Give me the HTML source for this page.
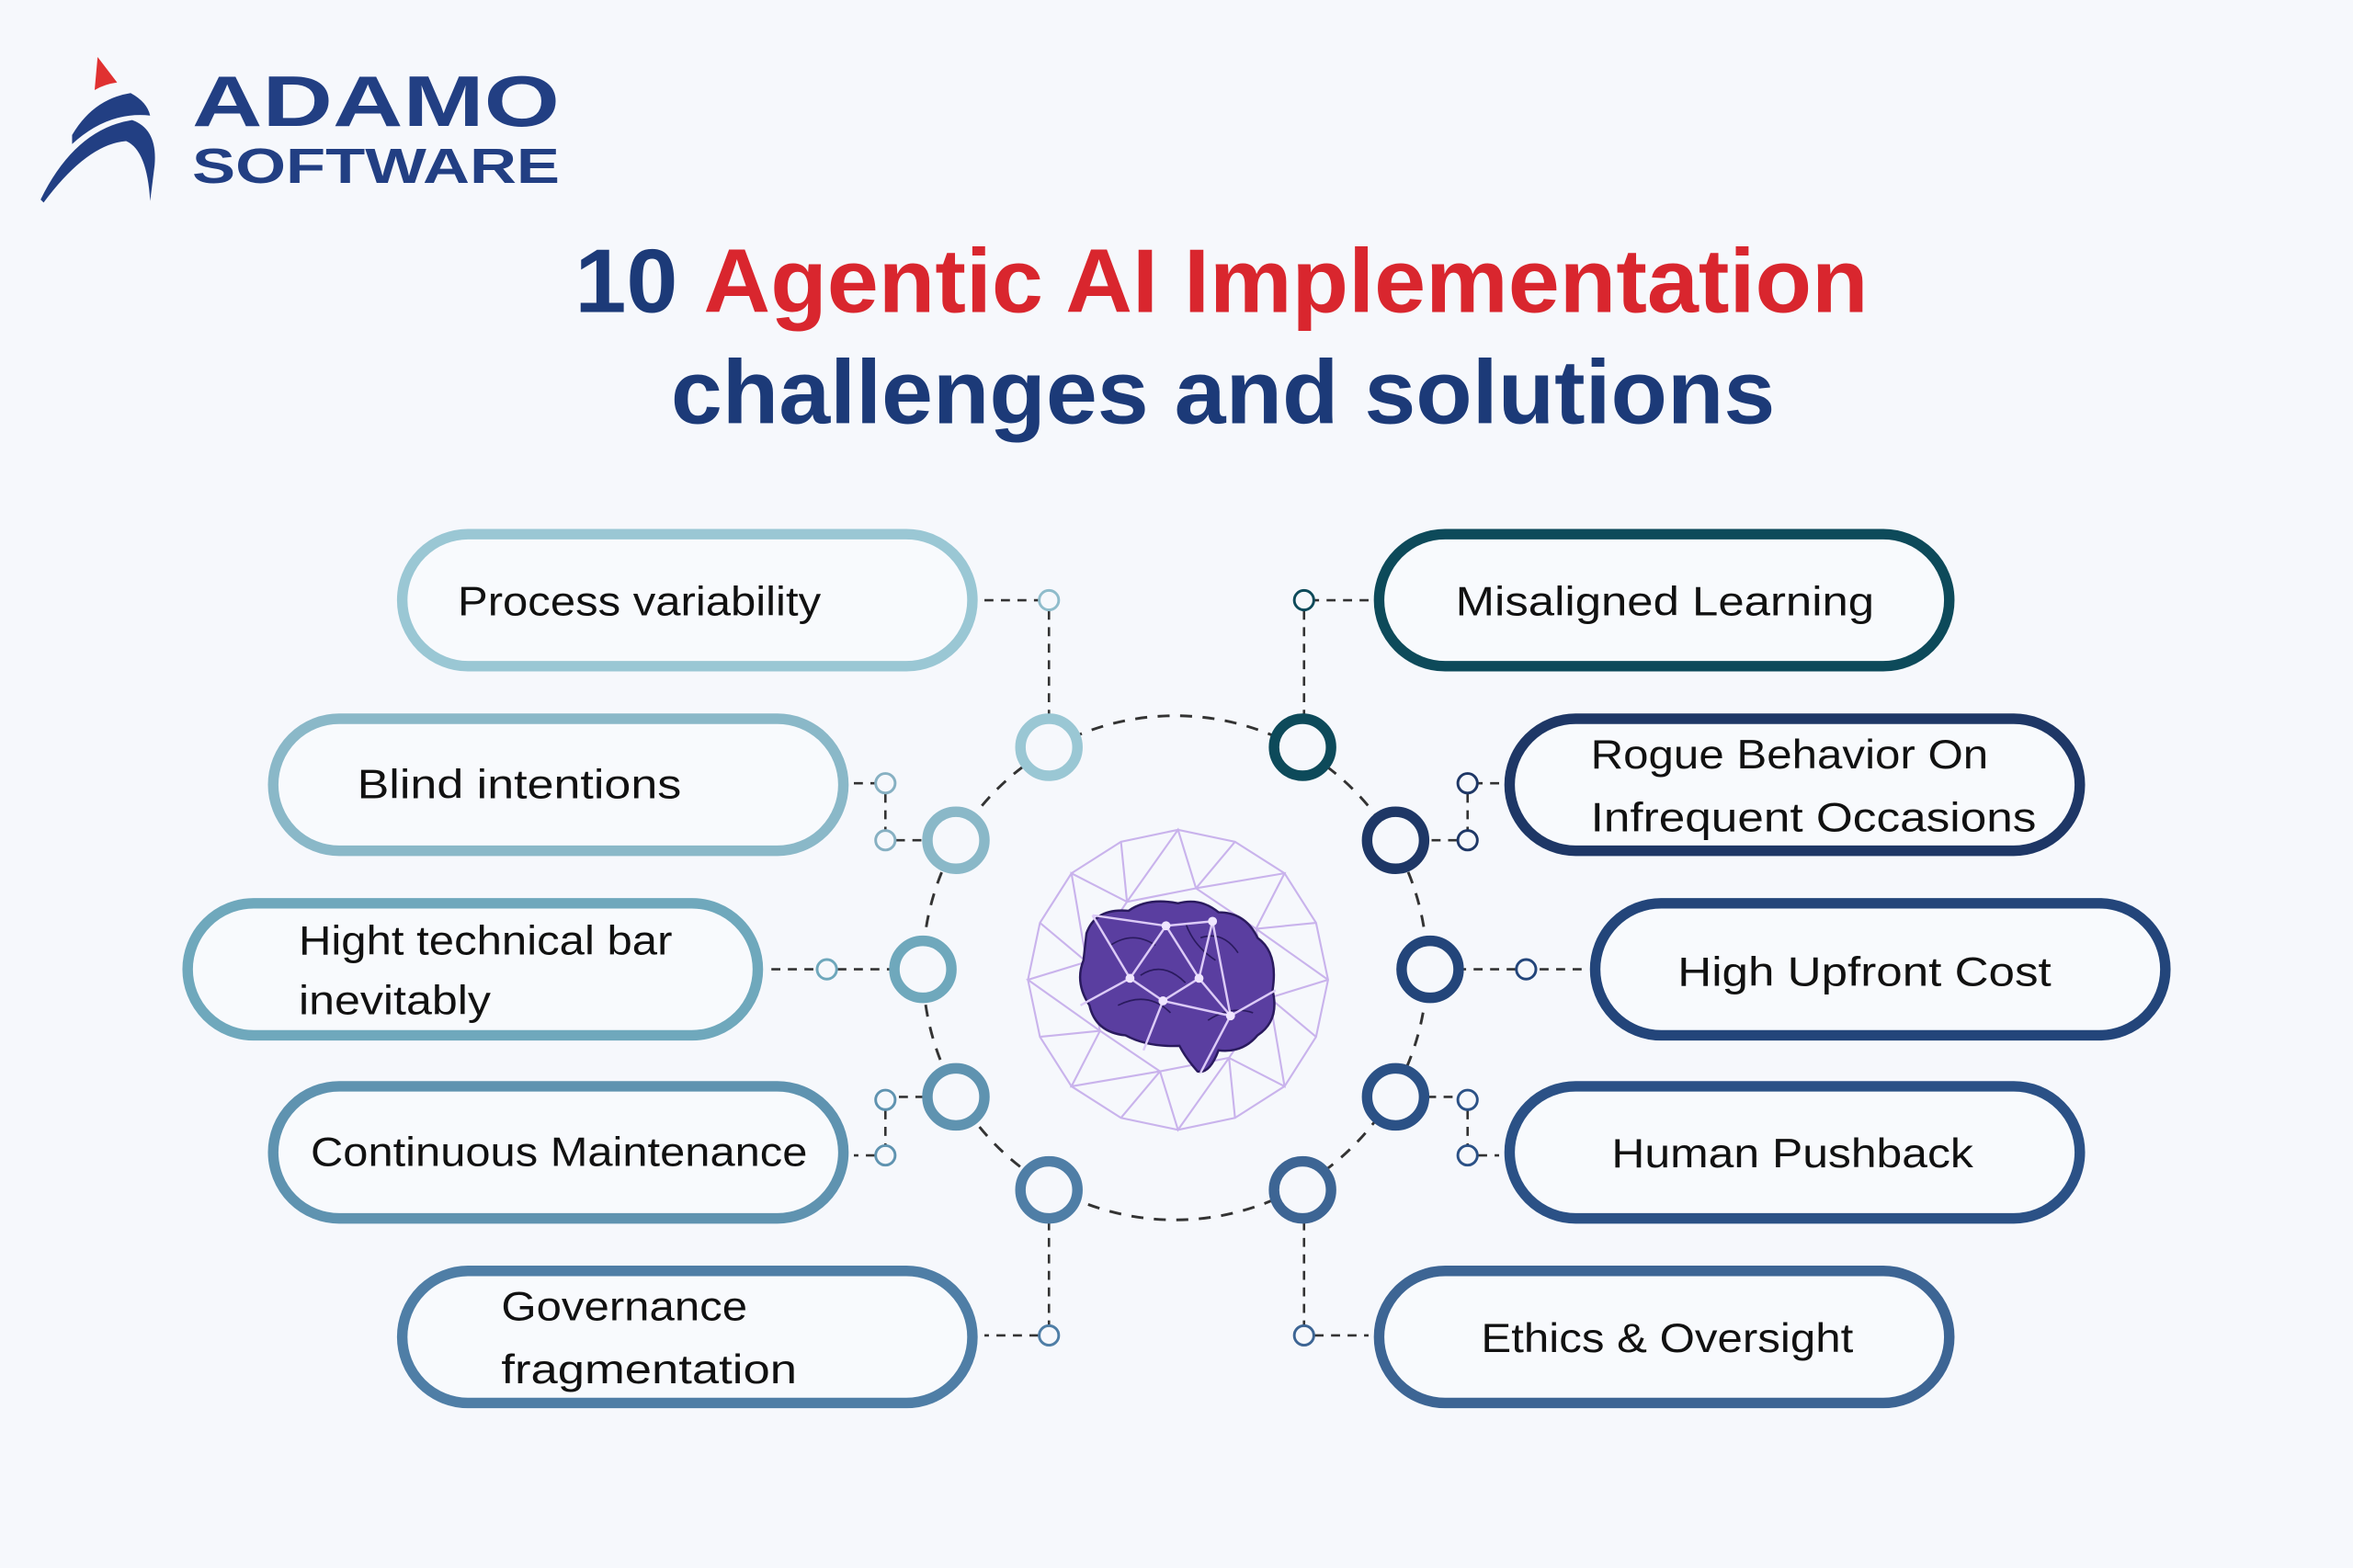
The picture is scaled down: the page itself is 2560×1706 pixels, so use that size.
<!DOCTYPE html>
<html><head><meta charset="utf-8"><style>
html,body{margin:0;padding:0;background:#f6f8fc;}
svg{display:block;}
.t{font-family:"Liberation Sans",sans-serif;font-size:27px;fill:#111;}
.h{font-family:"Liberation Sans",sans-serif;font-weight:bold;font-size:60px;}
</style></head><body>
<svg width="2560" height="1706" viewBox="0 0 1568 1045" xmlns="http://www.w3.org/2000/svg">
<rect width="1568" height="1045" fill="#f6f8fc"/>
<!-- logo -->
<path d="M65 38 L78 55 Q70 56 63 60 Z" fill="#e03131"/>
<path d="M48 90 Q62 66 87 62 Q98 68 100 77 Q72 74 48 96 Z" fill="#223f83"/>
<path d="M27 133 Q50 86 88 80 Q105 86 103 110 L100 134 Q98 100 84 94 Q58 96 29 135 Z" fill="#223f83"/>
<text x="128" y="84" font-family="Liberation Sans,sans-serif" font-weight="bold" font-size="48" fill="#223f83" textLength="245" lengthAdjust="spacingAndGlyphs">ADAMO</text>
<text x="128" y="122" font-family="Liberation Sans,sans-serif" font-weight="bold" font-size="33" fill="#223f83" textLength="245" lengthAdjust="spacingAndGlyphs">SOFTWARE</text>
<!-- title -->
<text class="h" x="383" y="208" textLength="862" lengthAdjust="spacingAndGlyphs"><tspan fill="#1c3a78">10 </tspan><tspan fill="#d9262e">Agentic AI Implementation</tspan></text>
<text class="h" x="447" y="282" fill="#1c3a78" textLength="736" lengthAdjust="spacingAndGlyphs">challenges and solutions</text>
<!-- dashed ring -->
<circle cx="783" cy="645" r="168" fill="none" stroke="#333" stroke-width="1.8" stroke-dasharray="8 7"/>
<!-- brain mesh -->
<g stroke="#c9b3ec" stroke-width="1.3" fill="none">
<polygon points="885,653 877,691 856,724 823,745 785,753 747,745 714,724 693,691 685,653 693,615 714,582 747,561 785,553 823,561 856,582 877,615"/>
<polygon points="846,665 819,705 773,714 733,687 724,641 751,601 797,592 837,619"/>
<polyline points="885,653 846,665 856,724 819,705 785,753 773,714 714,724 733,687 685,653 724,641 714,582 751,601 785,553 797,592 856,582 837,619 885,653"/>
<path d="M877,691 L846,665 M823,745 L819,705 M747,745 L773,714 M693,691 L733,687 M693,615 L724,641 M747,561 L751,601 M823,561 L797,592 M877,615 L837,619"/>
</g>
<path d="M724 622 Q730 605 752 607 Q765 598 785 602 Q800 598 812 608 Q830 608 838 625 Q852 635 848 660 Q853 680 838 690 Q828 702 812 700 Q806 716 798 714 Q790 705 786 697 Q765 698 750 690 Q730 688 726 670 Q716 655 722 640 Z" fill="#5a3ea0" stroke="#2a1a5e" stroke-width="1.5"/>
<g stroke="#2a1a5e" stroke-width="1" fill="none">
<path d="M740 630 Q755 620 770 630 M760 650 Q775 640 790 655 M800 625 Q815 620 825 635 M745 670 Q765 660 780 675 M805 680 Q820 670 835 675 M790 615 Q795 630 810 640"/>
</g>
<g stroke="#dccbf7" stroke-width="1.5" fill="none">
<path d="M728 610 L777 617 L808 614 L820 677 L775 667 L753 652 L728 610 M753 652 L777 617 L799 652 L808 614 M799 652 L820 677 M799 652 L775 667 L753 652 M775 667 L762 700 M820 677 L850 660 M820 677 L800 715 M753 652 L720 670"/>
</g>
<g fill="#efe6ff"><circle cx="753" cy="652" r="3"/><circle cx="799" cy="652" r="3"/><circle cx="777" cy="617" r="3"/><circle cx="775" cy="667" r="3"/><circle cx="820" cy="677" r="3"/><circle cx="808" cy="614" r="3"/></g>
<!-- connectors -->
<g stroke="#333" stroke-width="1.6" fill="none" stroke-dasharray="6 5">
<path d="M656 400 H692 M699 407 V477"/>
<path d="M569 522 H583 M590 529 V553 M597 560 H616"/>
<path d="M514 646 H544 M558 646 H594"/>
<path d="M616 731 H597 M590 740 V763 M583 770 H569"/>
<path d="M699 814 V883 M692 890 H656"/>
<path d="M912 400 H876 M869 407 V477"/>
<path d="M999 522 H985 M978 529 V553 M971 560 H951"/>
<path d="M1054 646 H1024 M1010 646 H974"/>
<path d="M951 731 H971 M978 740 V763 M985 770 H999"/>
<path d="M869 814 V883 M876 890 H912"/>
</g>
<g fill="#f6f8fc" stroke-width="1.8">
<circle cx="699" cy="400" r="6.5" stroke="#8fbccb"/>
<circle cx="590" cy="522" r="6.5" stroke="#86b0c2"/><circle cx="590" cy="560" r="6.5" stroke="#86b0c2"/>
<circle cx="551" cy="646" r="6.5" stroke="#6ea7bb"/>
<circle cx="590" cy="733" r="6.5" stroke="#5f93b0"/><circle cx="590" cy="770" r="6.5" stroke="#5f93b0"/>
<circle cx="699" cy="890" r="6.5" stroke="#4f7ea6"/>
<circle cx="869" cy="400" r="6.5" stroke="#0d4a5a"/>
<circle cx="978" cy="522" r="6.5" stroke="#1e3766"/><circle cx="978" cy="560" r="6.5" stroke="#1e3766"/>
<circle cx="1017" cy="646" r="6.5" stroke="#23457a"/>
<circle cx="978" cy="733" r="6.5" stroke="#2b5186"/><circle cx="978" cy="770" r="6.5" stroke="#2b5186"/>
<circle cx="869" cy="890" r="6.5" stroke="#3d6594"/>
</g>
<!-- ring nodes -->
<g fill="#f6f8fc" stroke-width="7">
<circle cx="699" cy="498" r="19" stroke="#9ac7d4"/>
<circle cx="637" cy="560" r="19" stroke="#8ab8c8"/>
<circle cx="615" cy="646" r="19" stroke="#6fa8bc"/>
<circle cx="637" cy="731" r="19" stroke="#5f93b0"/>
<circle cx="699" cy="793" r="19" stroke="#4f7ea6"/>
<circle cx="868" cy="498" r="19" stroke="#0d4a5a"/>
<circle cx="930" cy="560" r="19" stroke="#1e3766"/>
<circle cx="953" cy="646" r="19" stroke="#23457a"/>
<circle cx="930" cy="731" r="19" stroke="#2b5186"/>
<circle cx="868" cy="793" r="19" stroke="#3d6594"/>
</g>
<!-- pills -->
<g fill="#f8fafd" stroke-width="7">
<rect x="268" y="356" width="380" height="88" rx="44" stroke="#9ac7d4"/>
<rect x="182" y="479" width="380" height="88" rx="44" stroke="#8ab8c8"/>
<rect x="125" y="602" width="380" height="88" rx="44" stroke="#6fa8bc"/>
<rect x="182" y="724" width="380" height="88" rx="44" stroke="#5f93b0"/>
<rect x="268" y="847" width="380" height="88" rx="44" stroke="#4f7ea6"/>
<rect x="919" y="356" width="380" height="88" rx="44" stroke="#0d4a5a"/>
<rect x="1006" y="479" width="380" height="88" rx="44" stroke="#1e3766"/>
<rect x="1063" y="602" width="380" height="88" rx="44" stroke="#23457a"/>
<rect x="1006" y="724" width="380" height="88" rx="44" stroke="#2b5186"/>
<rect x="919" y="847" width="380" height="88" rx="44" stroke="#3d6594"/>
</g>
<g class="t">
<text class="t" x="305" y="410" textLength="242" lengthAdjust="spacingAndGlyphs">Process variability</text>
<text class="t" x="238" y="532" textLength="216" lengthAdjust="spacingAndGlyphs">Blind intentions</text>
<text class="t" x="199" y="636" textLength="249" lengthAdjust="spacingAndGlyphs">Hight technical bar</text>
<text class="t" x="199" y="676" textLength="128" lengthAdjust="spacingAndGlyphs">inevitably</text>
<text class="t" x="207" y="777" textLength="331" lengthAdjust="spacingAndGlyphs">Continuous Maintenance</text>
<text class="t" x="334" y="880" textLength="164" lengthAdjust="spacingAndGlyphs">Governance</text>
<text class="t" x="334" y="922" textLength="197" lengthAdjust="spacingAndGlyphs">fragmentation</text>
<text class="t" x="970" y="410" textLength="279" lengthAdjust="spacingAndGlyphs">Misaligned Learning</text>
<text class="t" x="1060" y="512" textLength="265" lengthAdjust="spacingAndGlyphs">Rogue Behavior On</text>
<text class="t" x="1060" y="554" textLength="297" lengthAdjust="spacingAndGlyphs">Infrequent Occasions</text>
<text class="t" x="1118" y="657" textLength="249" lengthAdjust="spacingAndGlyphs">High Upfront Cost</text>
<text class="t" x="1074" y="778" textLength="241" lengthAdjust="spacingAndGlyphs">Human Pushback</text>
<text class="t" x="987" y="901" textLength="248" lengthAdjust="spacingAndGlyphs">Ethics &amp; Oversight</text>
</g>
</svg>
</body></html>
